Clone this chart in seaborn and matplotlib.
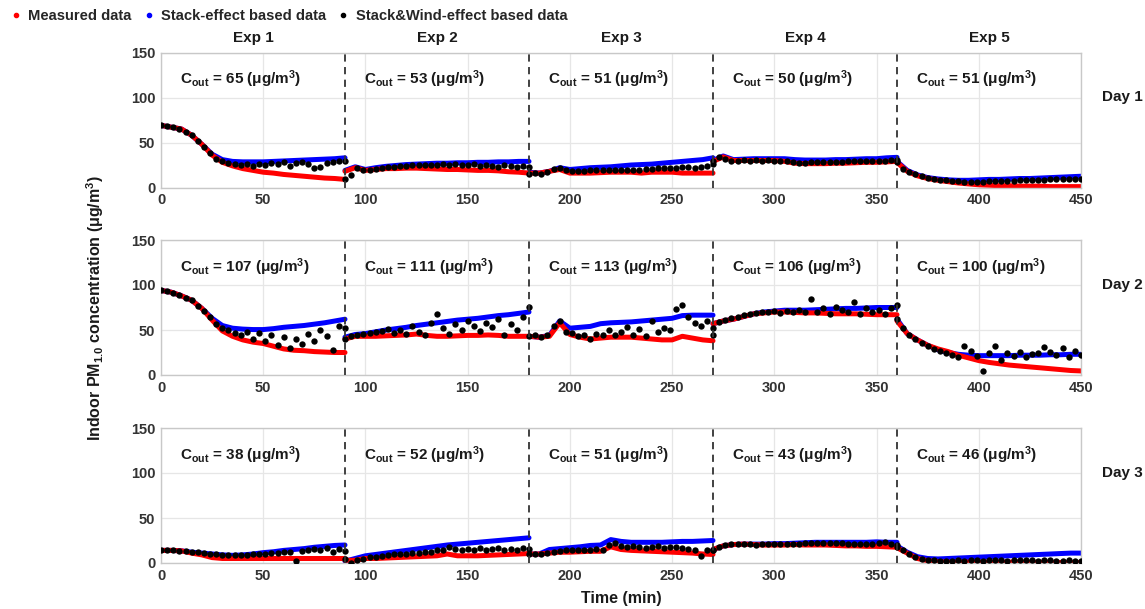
import numpy as np
import pandas as pd
import seaborn as sns
import matplotlib.pyplot as plt
from matplotlib.lines import Line2D
import matplotlib.transforms as mtransforms

exp_labels = ['Exp 1', 'Exp 2', 'Exp 3', 'Exp 4', 'Exp 5']
day_labels = ['Day 1', 'Day 2', 'Day 3']
c_out = [[65, 53, 51, 50, 51],
         [107, 111, 113, 106, 100],
         [38, 52, 51, 43, 46]]

# measured / stack-effect: one value every 5 min inside each experiment
measured_day1 = [
    [69, 67, 65, 58, 48, 36, 28, 24, 21, 19, 17, 16, 14.5, 13.5, 12.5, 11.5, 10.5, 10, 9],
    [18, 22, 19, 20, 21, 21, 21.5, 21.5, 21, 20.5, 20, 20, 19.5, 19, 19, 18.5, 17.5, 17, 16],
    [16, 16, 18, 20, 16, 16, 16, 16.5, 17, 17, 17, 16, 17, 17, 17, 16, 16, 16, 16],
    [29, 34, 30, 30, 30, 30, 30, 29, 27, 26.5, 26.5, 26.5, 27, 27, 27.5, 28, 28, 28.5, 29],
    [28, 18, 13, 10, 8, 6.5, 5, 4, 3, 2.5, 2, 2, 1.5, 1.5, 1.5, 1, 1, 1, 1],
]
stack_day1 = [
    [69, 67, 65, 58, 48, 37, 31, 29, 28.5, 28.5, 28.5, 29, 29.5, 30, 30.5, 31, 31.5, 32, 33],
    [19, 23, 20, 22, 23.5, 24.5, 25.5, 26, 26.5, 27, 27, 27.5, 27.5, 28, 28, 28.5, 28.5, 29, 29],
    [17, 16, 18, 22, 20, 21, 22, 22.5, 23, 24, 25, 25.5, 26, 27, 28, 29, 30, 31, 33],
    [30, 35, 31, 31.5, 32, 32, 32, 32, 31, 30.5, 30.5, 30.5, 31, 31, 31.5, 32, 32, 33, 33.5],
    [29, 19, 14, 11, 9.5, 8.5, 8, 8, 8.5, 9, 9, 9.5, 10, 10, 10.5, 11, 11.5, 12, 12.5],
]
measured_day2 = [
    [94, 92, 88, 83, 74, 61, 49, 43, 39, 36.5, 35, 32, 29, 27.5, 27, 26, 25.5, 25, 25],
    [40, 43, 43, 43, 43.5, 44, 44.5, 45.5, 44, 43, 43, 43.5, 44, 44, 44.5, 44, 43, 43, 43],
    [43, 42, 43, 58, 45, 42, 40, 41, 42, 42, 42, 41, 40, 39, 39, 43, 41, 39, 38],
    [57, 60, 62, 65, 68, 69, 70, 70, 69.5, 69, 69, 68.5, 68, 68, 68, 67.5, 67, 67, 67],
    [60, 46, 39, 33, 29, 26, 22, 19, 16, 14, 12.5, 11, 10, 9, 8, 7, 6, 5, 4.5],
]
stack_day2 = [
    [94, 92, 88, 83, 74, 63, 55, 52, 51, 50.5, 50.5, 51.5, 53, 54, 55, 56.5, 58, 60, 62],
    [42, 45, 46, 48, 50, 51.5, 53, 55, 56.5, 58, 59.5, 61, 62, 63, 64.5, 66, 67, 68.5, 70],
    [43, 42, 44, 60, 52, 53, 54, 57, 58, 58.5, 59, 60, 61, 62, 63, 66, 66.5, 66.5, 66.5],
    [57, 60, 62, 65, 68, 70, 71, 72, 72, 72, 72.5, 73, 73.5, 74, 74, 74.5, 75, 75, 75],
    [62, 46, 39, 33, 28, 25, 23, 22, 21.5, 21.5, 21.5, 21.5, 22, 22, 22, 22.5, 22.5, 23, 23],
]
measured_day3 = [
    [14, 14, 13.5, 11, 9, 6, 5, 5, 5, 5, 5, 5, 5, 5, 5, 5, 5, 5, 5],
    [3, 3, 5, 5, 5.5, 6, 6.5, 7, 7.5, 8, 10, 8, 8, 8, 8.5, 9, 9.5, 10, 10.5],
    [10, 10, 11, 12, 12, 12.5, 13, 13, 18, 15, 14, 13.5, 13, 12.5, 12, 11.5, 11, 10, 9.5],
    [15, 19, 20.5, 21, 20.5, 20, 20, 20, 20.5, 20, 20, 20, 19.5, 19, 19, 18.5, 18.5, 18, 17.5],
    [17, 11, 5, 2.5, 1.5, 1, 1, 1, 1, 1, 1, 1, 1, 0.8, 0.8, 0.8, 0.5, 0.5, 0.5],
]
stack_day3 = [
    [14, 14, 13.5, 12, 11, 10, 9, 8.5, 9, 10, 11.5, 12.5, 14, 15, 16, 17.5, 18.5, 19.5, 20],
    [2, 5, 8, 9.5, 11, 12.5, 14, 15.5, 17, 18.5, 20, 21, 22, 23, 24, 25, 26, 27, 28],
    [10, 10, 15, 16, 17, 18, 19.5, 20, 26, 24, 23, 23, 23, 23, 23.5, 24, 24, 24.5, 25],
    [15, 19, 20.5, 21, 21, 21, 21.5, 21.5, 22, 22.5, 23, 23, 23, 23, 23, 23, 23.5, 23, 23],
    [19, 12, 7, 5, 4.5, 5, 5.5, 6, 6.5, 7, 7.5, 8, 8.5, 9, 9.5, 10, 10.5, 11, 11],
]

# stack & wind effect: one value every 3 min inside each experiment
wind_day1 = [
    [69, 68, 67, 65.5, 62, 58, 52, 45, 38, 32, 29, 27, 26, 25, 26, 24, 26, 25, 27, 26, 28, 24, 27, 28, 26, 22, 23, 27, 28, 29, 30],
    [10, 14, 22, 20, 20, 21, 22, 23, 23, 24, 24, 25, 25, 25, 25.5, 25, 26, 25, 26, 25, 25, 26, 24, 25, 24, 23, 25, 24, 23, 24, 23],
    [15, 16, 15.5, 17, 21, 22, 19, 18.5, 18, 18.5, 19, 19, 19.5, 20, 20, 20, 20, 19, 19.5, 21, 21, 22, 22, 21.5, 22, 22.5, 23, 22, 23, 24, 26],
    [29, 34, 32, 30, 30, 30.5, 30, 30.5, 30, 30.5, 30, 29.5, 29, 28, 27.5, 27.5, 28, 28, 28.5, 28, 28.5, 28.5, 29, 29, 29.5, 29.5, 29.5, 30, 30, 30.5, 31],
    [28, 21, 17, 14.5, 12.5, 11, 9.5, 8.5, 8, 7.5, 7, 6.5, 6.5, 6.5, 6.5, 7, 7, 7, 7.5, 7.5, 8, 8, 8, 8.5, 8.5, 9, 9, 9, 9.5, 9.5, 10],
]
wind_day2 = [
    [94, 93, 91, 89, 86, 83, 77, 71, 64, 57, 52, 50, 47, 45, 48, 40, 47, 38, 45, 33, 42, 30, 40, 35, 46, 38, 50, 43, 28, 55, 52],
    [40, 43, 45, 46, 47, 48, 49, 51, 47, 50, 46, 55, 48, 44, 58, 68, 52, 46, 57, 50, 60, 55, 49, 58, 53, 62, 44, 57, 50, 65, 76],
    [43, 44, 42, 44, 55, 60, 48, 47, 43, 44, 40, 46, 45, 50, 44, 48, 53, 45, 51, 43, 60, 48, 52, 50, 73, 78, 64, 58, 55, 60, 52],
    [45, 59, 61, 63, 65, 67, 68, 69, 70, 70, 71, 69, 71, 70, 72, 70, 85, 70, 74, 68, 76, 72, 70, 81, 68, 74, 70, 72, 68, 74, 78],
    [62, 52, 45, 40, 36, 32, 29, 27, 24, 22, 20, 32, 27, 21, 5, 24, 32, 17, 24, 21, 26, 20, 23, 25, 31, 26, 22, 30, 20, 27, 22],
]
wind_day3 = [
    [14, 14.5, 14, 13.5, 13, 12.5, 12, 11, 10, 9.5, 9, 9, 8.5, 8.5, 9, 9.5, 10, 10.5, 11, 11, 12, 12, 2, 13, 15, 16, 14, 17, 12, 16, 13],
    [5, 0, 3, 5, 6.5, 7, 8, 9, 9.5, 10, 10.5, 11, 11, 12, 12.5, 14, 15, 18, 16, 14, 16, 15, 17, 15, 16, 17, 14, 16, 15, 17, 16],
    [10, 10.5, 10, 11, 12, 13, 14, 14, 15, 14, 15, 16, 15, 20, 22, 19, 18, 19, 18, 17, 18, 18.5, 17, 18, 17.5, 17, 16, 15, 8, 15, 15],
    [15, 18, 20, 21, 21, 21, 21, 20.5, 21, 21, 21, 21, 21.5, 21, 21, 22, 22, 22.5, 22, 22, 22.5, 22, 21.5, 21.5, 21, 21, 21, 22, 23, 21, 20],
    [18, 14, 10, 7, 5, 3.5, 3, 2.5, 2.5, 2.5, 3, 2.5, 3, 3, 2.5, 3, 3, 3.5, 2.5, 3, 3, 3.5, 3, 2.5, 3, 3, 2.5, 2.5, 3, 2, 2],
]

measured = [measured_day1, measured_day2, measured_day3]
stack = [stack_day1, stack_day2, stack_day3]
wind = [wind_day1, wind_day2, wind_day3]

# build tidy frames
line_parts, dot_parts = [], []
for d in range(3):
    for e in range(5):
        t5 = np.arange(0, 91, 5) + 90 * e
        t3 = np.arange(0, 91, 3) + 90 * e
        line_parts.append(pd.DataFrame({'day': d, 'exp': e, 'time': t5,
                                        'value': stack[d][e], 'series': 'Stack'}))
        line_parts.append(pd.DataFrame({'day': d, 'exp': e, 'time': t5,
                                        'value': measured[d][e], 'series': 'Measured'}))
        dot_parts.append(pd.DataFrame({'day': d, 'exp': e, 'time': t3,
                                       'value': wind[d][e]}))
lines_df = pd.concat(line_parts, ignore_index=True)
dots_df = pd.concat(dot_parts, ignore_index=True)

# ---- style ----
sns.set_style('white')
plt.rcParams['font.family'] = ['Liberation Sans', 'DejaVu Sans']
plt.rcParams['font.weight'] = 'bold'
plt.rcParams['mathtext.fontset'] = 'custom'
plt.rcParams['mathtext.rm'] = 'Liberation Sans:bold'
plt.rcParams['mathtext.bf'] = 'Liberation Sans:bold'
plt.rcParams['mathtext.it'] = 'Liberation Sans:bold'

RED, BLUE, BLACK = '#ff0000', '#0000ff', '#000000'
W, H = 1145, 609
fig = plt.figure(figsize=(W / 100, H / 100), dpi=100)

row_bottoms = [187.5, 375, 563]
axes = []
for d in range(3):
    ax = fig.add_axes([161 / W, 1 - row_bottoms[d] / H, 920 / W, 135 / H])
    axes.append(ax)

    sub = lines_df[lines_df['day'] == d]
    sns.lineplot(data=sub, x='time', y='value', hue='series',
                 hue_order=['Stack', 'Measured'],
                 palette={'Stack': BLUE, 'Measured': RED},
                 units='exp', estimator=None, sort=False,
                 lw=3.6, legend=False, ax=ax)
    sns.scatterplot(data=dots_df[dots_df['day'] == d], x='time', y='value',
                    color=BLACK, s=21, linewidth=0, legend=False, ax=ax, zorder=5)

    for xv in [90, 180, 270, 360]:
        ax.axvline(xv, color='#333333', lw=1.3, ls=(0, (4, 3)), zorder=6)

    for e in range(5):
        ax.text(90 * e + 9.5, 115,
                r'C$_{\mathbf{out}}$ = %d (μg/m$^{\mathbf{3}}$)' % c_out[d][e],
                fontsize=11, fontweight='bold', color='#1a1a1a',
                ha='left', va='baseline')

    ax.text(1.045, 100, day_labels[d], transform=mtransforms.blended_transform_factory(ax.transAxes, ax.transData),
            ha='center', va='center', fontsize=11, fontweight='bold', color='#1a1a1a')

    ax.set_xlim(0, 450)
    ax.set_ylim(0, 150)
    ax.set_xticks(np.arange(0, 451, 50))
    ax.set_yticks([0, 50, 100, 150])
    ax.set_xlabel('')
    ax.set_ylabel('')
    ax.grid(True, color='#e6e6e6', lw=0.9)
    ax.set_axisbelow(True)
    for sp in ax.spines.values():
        sp.set_color('#c8c8c8')
        sp.set_linewidth(1.0)
    ax.tick_params(direction='in', length=4, width=1, color='#8c8c8c',
                   labelsize=10.5, labelcolor='#333333', pad=4)
    for lab in ax.get_xticklabels() + ax.get_yticklabels():
        lab.set_fontweight('bold')

# experiment headers above the first row
top = axes[0]
for e in range(5):
    top.text(90 * e + 45, 1.11, exp_labels[e],
             transform=mtransforms.blended_transform_factory(top.transData, top.transAxes),
             ha='center', va='center', fontsize=11, fontweight='bold', color='#1a1a1a')

fig.text(95 / W, 1 - 308 / H, r'Indoor PM$_{\mathbf{1.0}}$ concentration (μg/m$^{\mathbf{3}}$)',
         rotation=90, ha='center', va='center', fontsize=11.5, fontweight='bold', color='#1a1a1a')
fig.text(621 / W, 1 - 598 / H, 'Time (min)', ha='center', va='center',
         fontsize=11.5, fontweight='bold', color='#1a1a1a')

handles = [Line2D([], [], ls='', marker='o', ms=3, color=c) for c in (RED, BLUE, BLACK)]
fig.legend(handles, ['Measured data', 'Stack-effect based data', 'Stack&Wind-effect based data'],
           loc='center left', bbox_to_anchor=(4 / W, 1 - 16 / H), ncol=3, frameon=False,
           borderaxespad=0, handlelength=0.8, handletextpad=0.45, columnspacing=0.75,
           prop={'weight': 'bold', 'size': 10.6})

fig.savefig('out.png', dpi=100)
